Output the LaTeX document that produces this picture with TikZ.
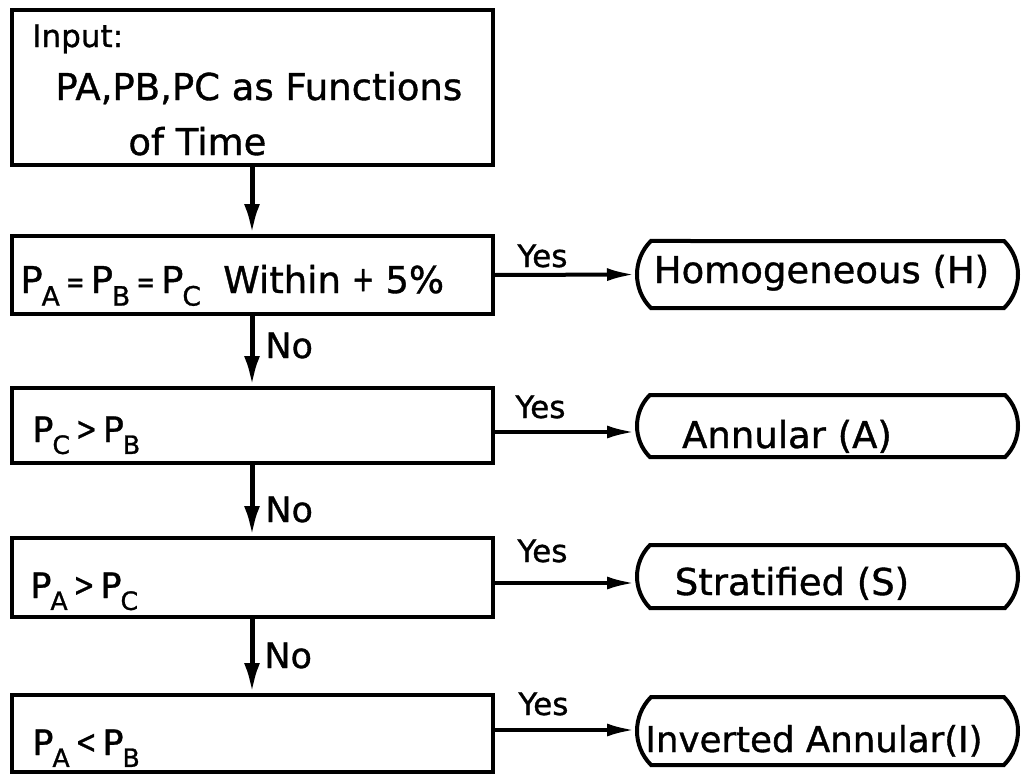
\documentclass[tikz,border=0pt]{standalone}
\usepackage{fontspec}
\setmainfont{DejaVu Sans}[FakeBold=1]
\usepackage{graphicx}
\usetikzlibrary{arrows.meta,shapes.misc}

% pressure symbol with a lowered, reduced subscript letter
\newcommand\psub[1]{P\kern-0.03em\raisebox{-0.34em}{\scalebox{0.72}{#1}}}
% narrow relation signs
\newcommand\nrel[1]{\raisebox{0.02em}{\scalebox{0.6}[0.8]{#1}}}
\newcommand\crel[1]{\raisebox{0.05em}{\scalebox{0.72}[0.95]{#1}}}

\begin{document}
\begin{tikzpicture}[x=0.5pt,y=-0.5pt,
  testbox/.style={draw, line width=2pt, minimum width=240.5pt, inner sep=0pt},
  regime/.style={draw, line width=2pt, rounded rectangle,
    rounded rectangle arc length=90, minimum width=190.5pt, inner sep=0pt},
  bigtxt/.style={inner sep=0pt, font=\fontsize{18.5}{20}\selectfont},
  midtxt/.style={inner sep=0pt, font=\fontsize{17.5}{20}\selectfont},
  smalltxt/.style={inner sep=0pt, font=\fontsize{15.5}{18}\selectfont},
  downarrow/.style={line width=2.5pt, -{Latex[length=15pt,width=8pt]}},
  yesarrow/.style={line width=2pt, -{Latex[length=14pt,width=6.5pt]}}
]
\fill[white] (0,0) rectangle (1025,777);
\useasboundingbox (0,0) rectangle (1025,777);

% decision chain
\node[testbox, minimum height=77.5pt] (b1) at (252,87.5) {};
\node[testbox, minimum height=39pt]   (b2) at (252,275) {};
\node[testbox, minimum height=37.5pt] (b3) at (252,425.5) {};
\node[testbox, minimum height=39.5pt] (b4) at (252,577.5) {};
\node[testbox, minimum height=38.5pt] (b5) at (252,733.5) {};

% texts of the decision boxes
\node[smalltxt, anchor=base west] (t1a) at (32,47) {Input:};
\node[bigtxt, anchor=base west] (t1b) at (55,100) {PA,PB,PC as Functions};
\node[bigtxt, anchor=base west] (t1c) at (128,155) {of Time};
\node[bigtxt, anchor=base west] (t2) at (20,293)
  {\psub{A}\,\nrel{=}\,\psub{B}\,\nrel{=}\,\psub{C}\hspace{0.6em}Within\hspace{0.3em}\crel{+}\hspace{0.3em}5\%};
\node[midtxt, anchor=base west] (t3) at (32,442) {\psub{C}\,\crel{>}\,\psub{B}};
\node[midtxt, anchor=base west] (t4) at (30,598) {\psub{A}\,\crel{>}\,\psub{C}};
\node[midtxt, anchor=base west] (t5) at (32,755) {\psub{A}\,\crel{<}\,\psub{B}};

% flow regimes
\node[regime, minimum height=33.5pt] (h) at (827.5,274.5) {};
\node[regime, minimum height=31pt]   (a) at (827.5,426) {};
\node[regime, minimum height=31.5pt] (s) at (827.5,576.5) {};
\node[regime, minimum height=34pt]   (i) at (827.5,731) {};

\node[bigtxt, anchor=base] (th) at (821.5,283) {Homogeneous (H)};
\node[bigtxt, anchor=base] (ta) at (787,448) {Annular (A)};
\node[bigtxt, anchor=base] (ts) at (792,595) {Stratified (S)};
\node[inner sep=0pt, font=\fontsize{17.8}{20}\selectfont, anchor=base] (ti) at (814,752) {Inverted Annular(I)};

% heights of the yes branches
\coordinate (ya) at (0,432);
\coordinate (ys) at (0,583);
\coordinate (yi) at (0,730);

% "no" path downwards
\draw[downarrow] (b1.south) -- (b2.north);
\draw[downarrow] (b2.south) -- (b3.north);
\draw[downarrow] (b3.south) -- (b4.north);
\draw[downarrow] (b4.south) -- (b5.north);

\node[midtxt, anchor=base west] (n2) at (265,358) {No};
\node[midtxt, anchor=base west] (n3) at (265,522) {No};
\node[midtxt, anchor=base west] (n4) at (264,668) {No};

% "yes" branches
\draw[yesarrow] (b2.east) -- (h.west);
\draw[yesarrow] (b3.east |- ya) -- (a.west |- ya);
\draw[yesarrow] (b4.east |- ys) -- (s.west |- ys);
\draw[yesarrow] (b5.east |- yi) -- (i.west |- yi);

\node[smalltxt, anchor=base west] (y1) at (517,267) {Yes};
\node[smalltxt, anchor=base west] (y2) at (515,418) {Yes};
\node[smalltxt, anchor=base west] (y3) at (517,562) {Yes};
\node[smalltxt, anchor=base west] (y4) at (518,715) {Yes};
\end{tikzpicture}
\end{document}
